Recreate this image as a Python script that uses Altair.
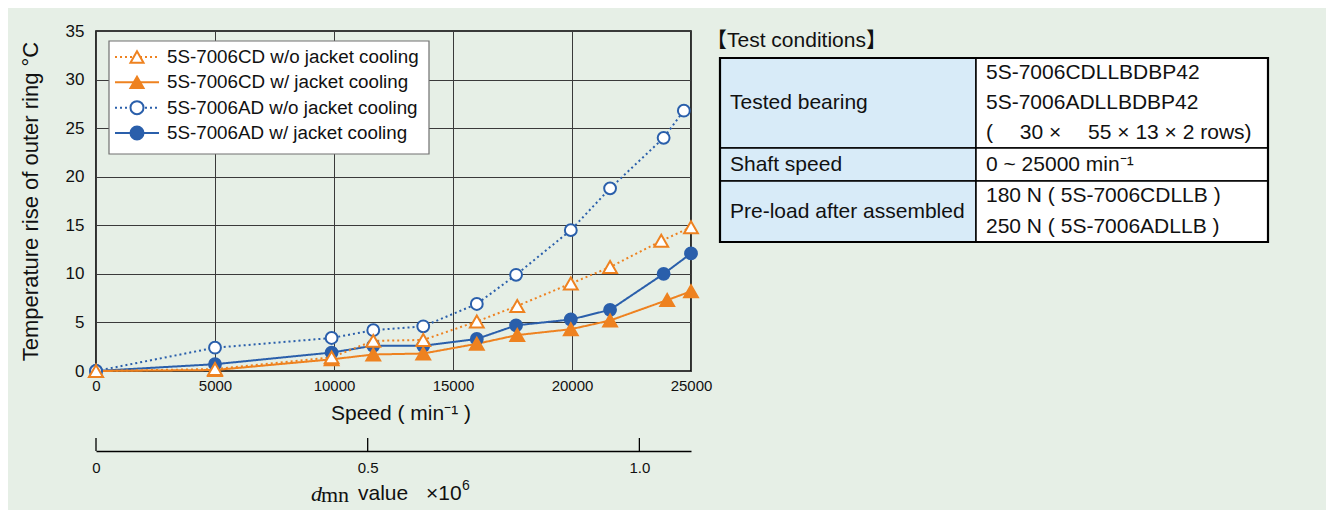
import altair as alt
import pandas as pd

# ---------------- data ----------------
series_names = [
    "5S-7006CD w/o jacket cooling",
    "5S-7006CD w/ jacket cooling",
    "5S-7006AD w/o jacket cooling",
    "5S-7006AD w/ jacket cooling",
]

speed_cd_wo = [0, 5000, 9900, 11650, 13750, 16000, 17700, 19950, 21600, 23750, 25000]
temp_cd_wo = [0, 0.2, 1.4, 3.1, 3.2, 5.1, 6.7, 9.0, 10.7, 13.4, 14.8]

speed_cd_w = [0, 5000, 9900, 11650, 13750, 16000, 17700, 19950, 21600, 24000, 25000]
temp_cd_w = [0, 0.1, 1.2, 1.7, 1.8, 2.8, 3.7, 4.3, 5.2, 7.3, 8.2]

speed_ad_wo = [0, 5000, 9900, 11650, 13750, 16000, 17650, 19950, 21600, 23850, 24700]
temp_ad_wo = [0, 2.4, 3.4, 4.2, 4.6, 6.9, 9.9, 14.5, 18.8, 24.0, 26.8]

speed_ad_w = [0, 5000, 9900, 11650, 13750, 16000, 17650, 19950, 21600, 23850, 25000]
temp_ad_w = [0, 0.7, 1.9, 2.6, 2.6, 3.3, 4.7, 5.3, 6.3, 10.0, 12.1]

speed_ticks = [0, 5000, 10000, 15000, 20000, 25000]
temp_ticks = [0, 5, 10, 15, 20, 25, 30, 35]
dmn_ticks = [0, 0.5, 1.0]
dm_mm = 43.8  # pitch diameter used for the dmn scale

table_labels = ["Tested bearing", "Shaft speed", "Pre-load after assembled"]
table_values = [
    ["5S-7006CDLLBDBP42", "5S-7006ADLLBDBP42", "(\u2002\u2002 30 ×\u2002\u2002 55 × 13 × 2 rows)"],
    ["0 ~ 25000 min⁻¹"],
    ["180 N ( 5S-7006CDLLB )", "250 N ( 5S-7006ADLLB )"],
]
table_title = "【Test conditions】"

# ---------------- styling ----------------
ORANGE = "#ee8220"
BLUE = "#2a5fab"
BG = "#e6efe6"
FONT = "Liberation Sans"
W, H = 595, 340

colors = [ORANGE, ORANGE, BLUE, BLUE]
dashes = [[2, 3], [1, 0], [2, 3], [1, 0]]
shapes = ["triangle-up", "triangle-up", "circle", "circle"]
fills = ["white", ORANGE, "white", BLUE]
sizes = [190, 190, 140, 140]

x_enc = alt.X(
    "speed:Q",
    scale=alt.Scale(domain=[0, 25000], nice=False, zero=False),
    axis=alt.Axis(
        values=speed_ticks, format="d", title="Speed ( min⁻¹ )", grid=True,
        ticks=False, tickSize=0, domain=False, labelPadding=7, titlePadding=9,
        labelFontSize=15, titleFontSize=21, labelFlush=False, labelOverlap=False,
        titleFontWeight="normal", labelColor="#111", titleColor="#111",
        titleX=W / 2 + 7,
    ),
)
y_enc = alt.Y(
    "temp:Q",
    scale=alt.Scale(domain=[0, 35], nice=False),
    axis=alt.Axis(
        values=temp_ticks, title="Temperature rise of outer ring  °C", grid=True,
        ticks=False, tickSize=0, domain=False, labelPadding=12, titlePadding=23,
        labelFontSize=17, titleFontSize=22, labelOverlap=False,
        titleFontWeight="normal", labelColor="#111", titleColor="#111",
    ),
)

series_data = [
    (speed_cd_wo, temp_cd_wo),
    (speed_cd_w, temp_cd_w),
    (speed_ad_wo, temp_ad_wo),
    (speed_ad_w, temp_ad_w),
]

lines, points = [], []
for i in [3, 1, 2, 0]:
    sp, tp = series_data[i]
    df = pd.DataFrame({"speed": sp, "temp": tp})
    lines.append(
        alt.Chart(df).mark_line(color=colors[i], strokeDash=dashes[i], strokeWidth=2)
        .encode(x=x_enc, y=y_enc)
    )
    points.append(
        alt.Chart(df).mark_point(
            shape=shapes[i], filled=True, fill=fills[i], stroke=colors[i],
            strokeWidth=2, size=sizes[i], opacity=1,
        ).encode(x=x_enc, y=y_enc)
    )
data_layer = alt.layer(*lines, *points)

# ---------------- secondary dmn axis ----------------
dmn_df = pd.DataFrame({"dmn": dmn_ticks})
dmn_max = 25000 * dm_mm / 1e6
dmn_rules = alt.Chart(dmn_df).mark_rule(color="black", strokeWidth=1.3).encode(
    x=alt.X(
        "dmn:Q",
        scale=alt.Scale(domain=[0, dmn_max], nice=False, zero=False),
        axis=alt.Axis(
            orient="bottom", offset=80, values=dmn_ticks,
            labelExpr="datum.value == 0 ? '0' : format(datum.value, '.1f')",
            ticks=False, tickSize=0, domain=True, domainColor="black", domainWidth=1.5,
            grid=False, labelPadding=9, title=None, labelFontSize=15,
            labelFlush=False, labelOverlap=False, labelColor="#111",
        ),
    ),
    y=alt.value(H + 67),
    y2=alt.value(H + 80),
)
one = pd.DataFrame({"k": [0]})
TY = H + 123
t_d = alt.Chart(one).mark_text(text="d", font="Liberation Serif", fontStyle="italic",
                               fontSize=22, align="left", baseline="middle", color="#111"
                               ).encode(x=alt.value(215), y=alt.value(TY))
t_mn = alt.Chart(one).mark_text(text="mn", font="Liberation Serif", fontSize=22,
                                align="left", baseline="middle", color="#111"
                                ).encode(x=alt.value(225), y=alt.value(TY + 1))
t_val = alt.Chart(one).mark_text(text="value", font=FONT, fontSize=21,
                                 align="left", baseline="middle", color="#111"
                                 ).encode(x=alt.value(262), y=alt.value(TY))
t_x10 = alt.Chart(one).mark_text(text="×10", font=FONT, fontSize=21,
                                 align="left", baseline="middle", color="#111"
                                 ).encode(x=alt.value(330), y=alt.value(TY))
t_6 = alt.Chart(one).mark_text(text="6", font=FONT, fontSize=14,
                               align="left", baseline="middle", color="#111"
                               ).encode(x=alt.value(366), y=alt.value(TY - 8))
dmn_layer = alt.layer(dmn_rules, t_d, t_mn, t_val, t_x10, t_6)

# ---------------- in-plot legend ----------------
leg_df = pd.DataFrame({"name": series_names})
leg_y = alt.Y("name:N", scale=alt.Scale(type="point", domain=series_names, range=[26, 102], padding=0), axis=None)
leg_stroke = alt.Stroke("name:N", scale=alt.Scale(domain=series_names, range=colors), legend=None)
leg_box = alt.Chart(one).mark_rect(fill="white", stroke="#707070", strokeWidth=1.2).encode(
    x=alt.value(13), x2=alt.value(333), y=alt.value(10), y2=alt.value(123)
)
leg_lines = alt.Chart(leg_df).mark_rule(strokeWidth=2).encode(
    x=alt.value(19), x2=alt.value(63), y=leg_y, stroke=leg_stroke,
    strokeDash=alt.StrokeDash("name:N", scale=alt.Scale(domain=series_names, range=dashes), legend=None),
)
leg_pts = alt.Chart(leg_df).mark_point(filled=True, strokeWidth=2, opacity=1, size=170).encode(
    x=alt.value(41), y=leg_y, stroke=leg_stroke,
    shape=alt.Shape("name:N", scale=alt.Scale(domain=series_names, range=shapes), legend=None),
    fill=alt.Fill("name:N", scale=alt.Scale(domain=series_names, range=fills), legend=None),
)
leg_txt = alt.Chart(leg_df).mark_text(align="left", baseline="middle", fontSize=18.8, font=FONT, color="#111").encode(
    x=alt.value(71), y=leg_y, text="name:N"
)
legend_layer = alt.layer(leg_box, leg_lines, leg_pts, leg_txt)

# ---------------- test-conditions table ----------------
col_edges = [0, 256, 548]
row_edges = [0, 90, 123, 184]
tx = alt.Scale(domain=[0, 548], range=[624, 1172], nice=False, zero=False)
ty = alt.Scale(domain=[0, 184], range=[27, 211], nice=False, zero=False)

cells = pd.DataFrame({
    "x0": [col_edges[0]] * 3, "x1": [col_edges[1]] * 3,
    "y0": row_edges[:-1], "y1": row_edges[1:],
})
cells_r = pd.DataFrame({
    "x0": [col_edges[1]] * 3, "x1": [col_edges[2]] * 3,
    "y0": row_edges[:-1], "y1": row_edges[1:],
})
left_cells = alt.Chart(cells).mark_rect(fill="#d8ebf8", stroke="black", strokeWidth=1.5).encode(
    x=alt.X("x0:Q", scale=tx, axis=None), x2="x1:Q",
    y=alt.Y("y0:Q", scale=ty, axis=None), y2="y1:Q",
)
right_cells = alt.Chart(cells_r).mark_rect(fill="white", stroke="black", strokeWidth=1.5).encode(
    x=alt.X("x0:Q", scale=tx, axis=None), x2="x1:Q",
    y=alt.Y("y0:Q", scale=ty, axis=None), y2="y1:Q",
)
outer = alt.Chart(pd.DataFrame({"x0": [col_edges[0]], "x1": [col_edges[-1]], "y0": [row_edges[0]], "y1": [row_edges[-1]]})
                  ).mark_rect(fill=None, stroke="black", strokeWidth=2.2, filled=False).encode(
    x=alt.X("x0:Q", scale=tx, axis=None), x2="x1:Q",
    y=alt.Y("y0:Q", scale=ty, axis=None), y2="y1:Q",
)
lab_rows = []
for r, lab in enumerate(table_labels):
    lab_rows.append({"x": col_edges[0] + 10, "y": (row_edges[r] + row_edges[r + 1]) / 2, "t": lab})
val_rows = []
for r, vals in enumerate(table_values):
    h = (row_edges[r + 1] - row_edges[r]) / len(vals)
    for j, v in enumerate(vals):
        val_rows.append({"x": col_edges[1] + 10, "y": row_edges[r] + (j + 0.5) * h, "t": v})
txt_df = pd.DataFrame(lab_rows + val_rows)
tbl_text = alt.Chart(txt_df).mark_text(align="left", baseline="middle", fontSize=21, font=FONT, color="#111").encode(
    x=alt.X("x:Q", scale=tx, axis=None), y=alt.Y("y:Q", scale=ty, axis=None), text="t:N"
)
title_df = pd.DataFrame({"x": [-14], "y": [-17], "t": [table_title]})
tbl_title = alt.Chart(title_df).mark_text(align="left", baseline="middle", fontSize=21,
                                          font="Liberation Sans, Noto Sans CJK JP", color="#111").encode(
    x=alt.X("x:Q", scale=tx, axis=None), y=alt.Y("y:Q", scale=ty, axis=None), text="t:N"
)
table_layer = alt.layer(left_cells, right_cells, outer, tbl_text, tbl_title)

chart = (
    alt.layer(data_layer, dmn_layer, legend_layer, table_layer)
    .resolve_scale(x="independent", y="independent")
    .properties(width=W, height=H, background=BG,
                padding={"left": 11, "top": 14, "right": 56, "bottom": 8})
    .configure(font=FONT)
    .configure_view(stroke="black", strokeWidth=1.6)
    .configure_axis(gridColor="#3a3a3a", gridWidth=1, gridOpacity=1, labelFont=FONT, titleFont=FONT)
)

chart.save("out.html", embed_options={"renderer": "svg", "actions": False})
